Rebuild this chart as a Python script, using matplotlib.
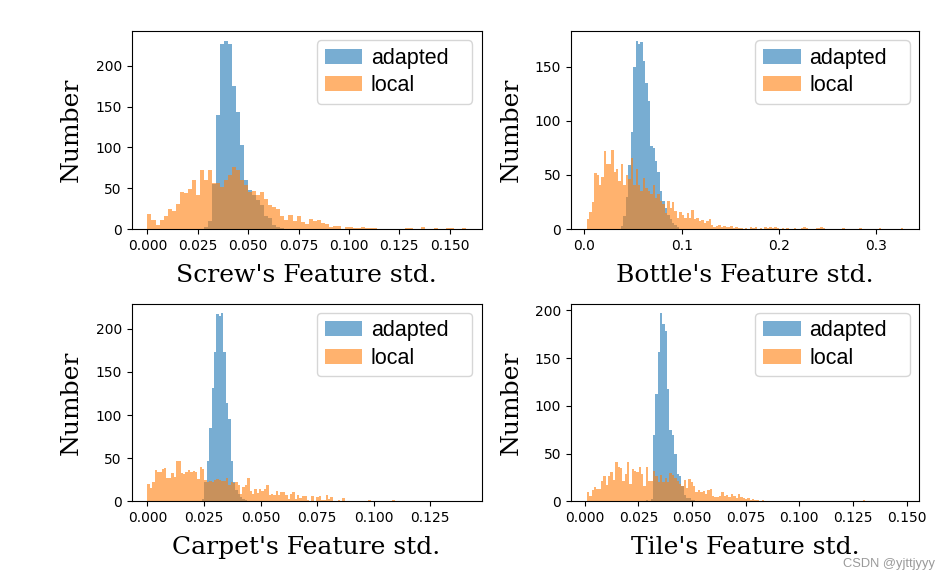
import numpy as np
import matplotlib
matplotlib.use('Agg')
import matplotlib.pyplot as plt
from matplotlib.ticker import MultipleLocator

# bin layout of each panel: (first edge, bin width)
screw_bins = (0.0, 0.002)
bottle_bins = (0.0025, 0.0025)
carpet_bins = (0.0, 0.00105)
tile_bins = (0.001, 0.0011)

# x tick step of each panel
screw_step = 0.025
bottle_step = 0.1
carpet_step = 0.025
tile_step = 0.025

# counts per bin
screw_local = [
    18, 11, 5, 11, 16, 25, 22, 31, 46, 44, 49, 60, 42, 72, 60, 72, 56, 57, 52, 60,
    66, 76, 73, 60, 54, 46, 47, 42, 46, 37, 30, 27, 25, 16, 11, 17, 10, 16, 8, 6,
    12, 10, 11, 7, 6, 2, 4, 4, 0, 2, 2, 1, 1, 2, 1, 1, 1, 0, 0, 0,
    0, 0, 0, 0, 1, 1, 0, 0, 2, 0, 0, 1, 0, 0, 1, 1, 0, 0, 1]
screw_adapted = [
    0, 0, 0, 0, 0, 0, 0, 0, 0, 0, 0, 0, 0, 0, 2, 10, 55, 140, 227, 231,
    227, 175, 143, 103, 60, 48, 42, 35, 30, 16, 14, 5, 2, 1, 0, 0, 0, 0, 0, 0,
    0, 0, 0, 0, 0, 0, 0, 0, 0, 0, 0, 0, 0, 0, 0, 0, 0, 0, 0, 0,
    0, 0, 0, 0, 0, 0, 0, 0, 0, 0, 0, 0, 0, 0, 0, 0, 0, 0, 0]

bottle_local = [
    9, 16, 25, 52, 50, 41, 48, 72, 60, 60, 73, 53, 55, 44, 60, 41, 50, 46, 66, 41,
    55, 41, 35, 47, 38, 35, 32, 41, 29, 32, 26, 23, 15, 26, 19, 25, 17, 10, 16, 13,
    10, 15, 10, 18, 9, 10, 7, 8, 6, 7, 9, 4, 2, 3, 4, 2, 3, 2, 2, 3,
    1, 2, 1, 1, 0, 1, 0, 2, 1, 2, 0, 1, 0, 2, 1, 2, 1, 2, 1, 0,
    1, 0, 1, 0, 0, 1, 0, 0, 1, 2, 1, 0, 0, 0, 1, 1, 2, 1, 0, 0,
    0, 0, 0, 0, 0, 1, 0, 0, 0, 0, 0, 0, 1, 0, 0, 0, 0, 0, 0, 0,
    1, 0, 0, 0, 0, 0, 0, 0, 0, 1]
bottle_adapted = [
    0, 0, 0, 0, 0, 0, 0, 0, 0, 0, 0, 0, 0, 0, 3, 12, 30, 59, 90, 150,
    174, 171, 173, 155, 135, 118, 77, 75, 63, 53, 35, 26, 19, 13, 9, 6, 4, 2, 0, 0,
    0, 0, 0, 0, 0, 0, 0, 0, 0, 0, 0, 0, 0, 0, 0, 0, 0, 0, 0, 0,
    0, 0, 0, 0, 0, 0, 0, 0, 0, 0, 0, 0, 0, 0, 0, 0, 0, 0, 0, 0,
    0, 0, 0, 0, 0, 0, 0, 0, 0, 0, 0, 0, 0, 0, 0, 0, 0, 0, 0, 0,
    0, 0, 0, 0, 0, 0, 0, 0, 0, 0, 0, 0, 0, 0, 0, 0, 0, 0, 0, 0,
    0, 0, 0, 0, 0, 0, 0, 0, 0, 0]

carpet_local = [
    20, 16, 23, 36, 34, 34, 38, 39, 27, 27, 33, 28, 47, 47, 33, 32, 34, 36, 34, 35,
    34, 26, 40, 38, 25, 23, 24, 22, 25, 26, 25, 24, 24, 27, 19, 22, 21, 22, 19, 9,
    17, 19, 27, 12, 9, 14, 10, 14, 12, 14, 19, 7, 9, 7, 12, 7,
    11, 11, 7, 3, 9, 11, 3, 8, 4, 6, 6, 2, 0, 6, 0, 5, 6, 2, 2, 8,
    3, 5, 0, 1, 2, 0, 4, 0, 0, 0, 0, 0, 1, 0, 0, 0, 0, 2, 0, 0,
    0, 1, 0, 0, 1, 0, 0, 2, 0, 0, 0, 0, 0, 0, 1, 0, 0, 0, 0, 0,
    0, 0, 0, 0, 0, 0, 0, 0, 0, 0, 0, 0, 0, 0, 0, 0, 0, 1]
carpet_adapted = [
    0, 0, 0, 0, 0, 0, 0, 0, 0, 0, 0, 0, 0, 0, 0, 0, 0, 0, 0, 0,
    0, 0, 0, 3, 22, 47, 85, 131, 173, 217, 215, 218, 173, 114, 96, 47, 23, 13, 9, 5,
    3, 2, 1, 0, 0, 0, 0, 0, 0, 0, 0, 0, 0, 0, 0, 0,
    0, 0, 0, 0, 0, 0, 0, 0, 0, 0, 0, 0, 0, 0, 0, 0, 0, 0, 0, 0,
    0, 0, 0, 0, 0, 0, 0, 0, 0, 0, 0, 0, 0, 0, 0, 0, 0, 0, 0, 0,
    0, 0, 0, 0, 0, 0, 0, 0, 0, 0, 0, 0, 0, 0, 0, 0, 0, 0, 0, 0,
    0, 0, 0, 0, 0, 0, 0, 0, 0, 0, 0, 0, 0, 0, 0, 0, 0, 0]

tile_local = [
    10, 6, 12, 15, 13, 13, 21, 27, 17, 27, 31, 22, 41, 36, 35, 21, 29, 41, 18, 34,
    32, 31, 36, 29, 16, 36, 21, 21, 32, 27, 20, 28, 20, 25, 20, 30, 28, 25, 21, 18,
    16, 23, 14, 24, 20, 16, 10, 12, 10, 11, 8, 12, 13, 6, 5, 5, 6, 10, 6,
    7, 5, 8, 6, 4, 8, 5, 4, 3, 4, 2, 3, 2, 2, 1, 2, 1, 1, 0, 1,
    0, 1, 0, 1, 0, 1, 0, 0, 1, 0, 0, 0, 0, 1, 0, 0, 0, 0, 0, 0,
    0, 1, 0, 0, 0, 0, 0, 0, 0, 0, 0, 0, 0, 0, 0, 0, 0, 0, 2, 0,
    0, 0, 0, 0, 0, 0, 0, 0, 0, 0, 0, 0, 0, 0, 1]
tile_adapted = [
    0, 0, 0, 0, 0, 0, 0, 0, 0, 0, 0, 0, 0, 0, 0, 0, 0, 0, 0, 0,
    0, 0, 0, 0, 1, 2, 1, 3, 70, 112, 156, 197, 186, 178, 118, 75, 70, 50, 29, 27,
    16, 7, 4, 4, 2, 2, 0, 0, 0, 0, 0, 0, 0, 0, 0, 0, 0, 0, 0,
    0, 0, 0, 0, 0, 0, 0, 0, 0, 0, 0, 0, 0, 0, 0, 0, 0, 0, 0, 0,
    0, 0, 0, 0, 0, 0, 0, 0, 0, 0, 0, 0, 0, 0, 0, 0, 0, 0, 0, 0,
    0, 0, 0, 0, 0, 0, 0, 0, 0, 0, 0, 0, 0, 0, 0, 0, 0, 0, 0, 0,
    0, 0, 0, 0, 0, 0, 0, 0, 0, 0, 0, 0, 0, 0, 0]

panels = [
    ("Screw", screw_bins, screw_step, screw_adapted, screw_local),
    ("Bottle", bottle_bins, bottle_step, bottle_adapted, bottle_local),
    ("Carpet", carpet_bins, carpet_step, carpet_adapted, carpet_local),
    ("Tile", tile_bins, tile_step, tile_adapted, tile_local),
]

fig = plt.figure(figsize=(9.49, 5.83), dpi=100)
# axes rectangles in figure fractions (left, bottom, width, height)
rects = [
    (0.1386, 0.6072, 0.3690, 0.3391),
    (0.6017, 0.6072, 0.3667, 0.3391),
    (0.1386, 0.1398, 0.3690, 0.3393),
    (0.6017, 0.1398, 0.3667, 0.3393),
]

for (name, (start, width), step, adapted, local), rect in zip(panels, rects):
    ax = fig.add_axes(rect)
    n = len(local)
    edges = start + width * np.arange(n + 1)
    centers = 0.5 * (edges[:-1] + edges[1:])
    ax.hist(centers, bins=edges, weights=adapted, alpha=0.6, label='adapted')
    ax.hist(centers, bins=edges, weights=local, alpha=0.6, label='local')
    ax.xaxis.set_major_locator(MultipleLocator(step))
    ax.set_xlabel("%s's Feature std." % name, family='DejaVu Serif', fontsize=18,
                  labelpad=8)
    ax.set_ylabel('Number', family='DejaVu Serif', fontsize=18, labelpad=9)
    ax.tick_params(labelsize=10)
    # the legend box is wider than its text, so stretch it over a fixed span
    ax.legend(loc='upper left', bbox_to_anchor=(0.53, 0.0, 0.443, 0.955),
              mode='expand', borderaxespad=0,
              prop={'family': 'Liberation Sans', 'size': 15.5},
              handlelength=1.75, handletextpad=0.4, borderpad=0.35,
              labelspacing=0.3)

fig.text(0.985, 0.022, 'CSDN @yjttjyyy', ha='right', va='bottom',
         color='#9a9a9a', fontsize=9.3, family='Liberation Sans')

plt.savefig('out.png', dpi=100)
